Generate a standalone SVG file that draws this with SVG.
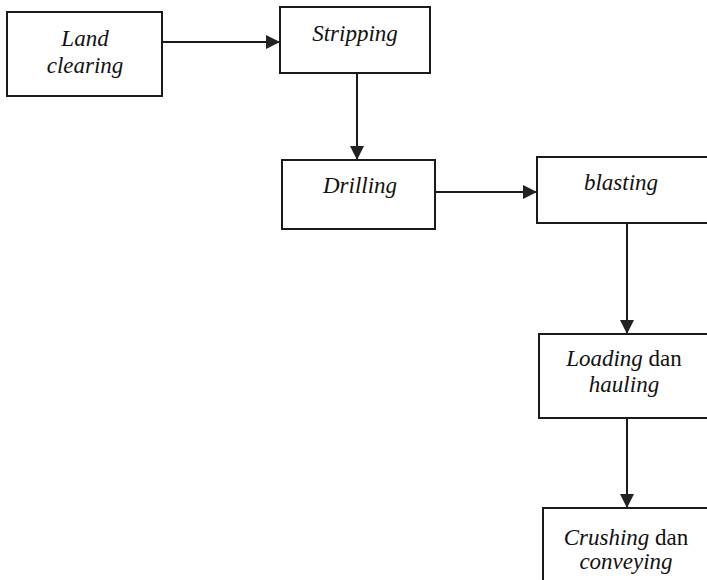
<svg xmlns="http://www.w3.org/2000/svg" width="707" height="580" viewBox="0 0 707 580">
  <defs>
    <marker id="arrow" viewBox="0 0 14 14" refX="14" refY="7" markerWidth="14" markerHeight="14" markerUnits="userSpaceOnUse" orient="auto">
      <path d="M0,0 L14,7 L0,14 Z" fill="#222"/>
    </marker>
    <style>
      .box { fill: #fff; stroke: #1a1a1a; stroke-width: 2; }
      .lbl { font-family: "Liberation Serif", "Times New Roman", serif; font-size: 23px; fill: #111; text-anchor: middle; }
      .it { font-style: italic; }
      .conn { stroke: #1a1a1a; stroke-width: 2; fill: none; marker-end: url(#arrow); }
    </style>
  </defs>
  <rect width="707" height="580" fill="#fff"/>

  <g id="connectors">
    <line class="conn" x1="162" y1="42" x2="280" y2="42"/>
    <line class="conn" x1="357" y1="73" x2="357" y2="160"/>
    <line class="conn" x1="435" y1="192" x2="537" y2="192"/>
    <line class="conn" x1="627" y1="223" x2="627" y2="334"/>
    <line class="conn" x1="627" y1="418" x2="627" y2="508"/>
  </g>

  <g id="land-clearing">
    <rect class="box" x="7" y="12" width="155" height="84"/>
    <text class="lbl it" x="85" y="46">Land</text>
    <text class="lbl it" x="85" y="73">clearing</text>
  </g>

  <g id="stripping">
    <rect class="box" x="280" y="7" width="150" height="66"/>
    <text class="lbl it" x="355" y="41">Stripping</text>
  </g>

  <g id="drilling">
    <rect class="box" x="282" y="160" width="153" height="69"/>
    <text class="lbl it" x="360" y="193">Drilling</text>
  </g>

  <g id="blasting">
    <rect class="box" x="537" y="157" width="175" height="66"/>
    <text class="lbl it" x="621" y="190">blasting</text>
  </g>

  <g id="loading-hauling">
    <rect class="box" x="539" y="334" width="175" height="84"/>
    <text class="lbl" x="624" y="366"><tspan class="it">Loading</tspan> dan</text>
    <text class="lbl it" x="624" y="392">hauling</text>
  </g>

  <g id="crushing-conveying">
    <rect class="box" x="543" y="508" width="175" height="84"/>
    <text class="lbl" x="626" y="545"><tspan class="it">Crushing</tspan> dan</text>
    <text class="lbl it" x="626" y="569">conveying</text>
  </g>
</svg>
